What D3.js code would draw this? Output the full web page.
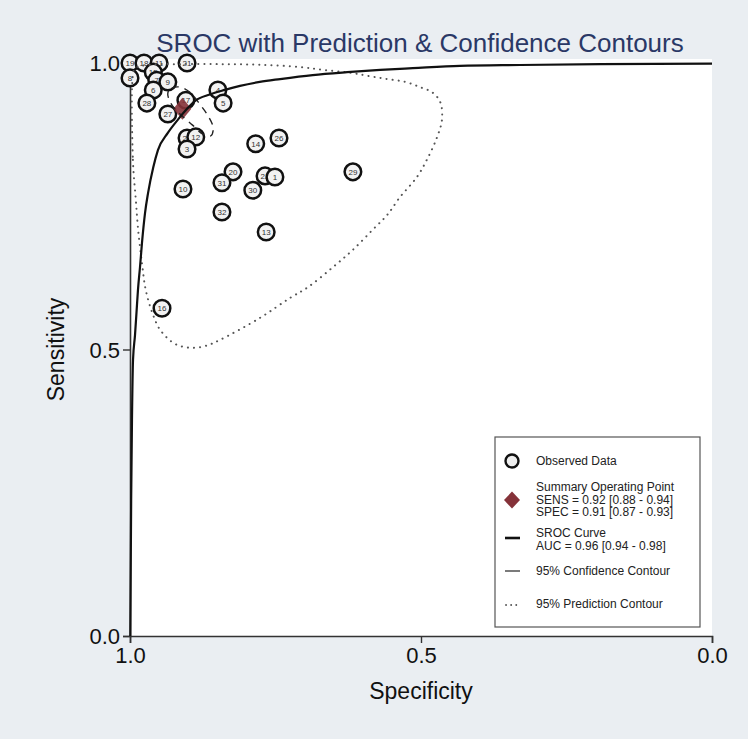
<!DOCTYPE html>
<html>
<head>
<meta charset="utf-8">
<script src="https://cdn.jsdelivr.net/npm/d3@7"></script>
<style>
  html, body { margin: 0; padding: 0; background: #eaeef2; }
  svg { display: block; font-family: 'Liberation Sans', Arial, sans-serif; }
</style>
</head>
<body>
<div id="chart"></div>
<script>
// ─── Data (specificity, sensitivity) ───────────────────────────
const studyLabels = ['19', '18', '11', '21', '8', '15', '7', '9', '6', '28', '27', '17', '4', '5',
    '24', '12', '3', '20', '31', '10', '14', '26', '22', '1', '30', '32', '13', '29', '16'];
const studySpec = [1.000, 0.976, 0.950, 0.902, 1.000, 0.960, 0.954, 0.935, 0.960, 0.971, 0.935, 0.904, 0.849, 0.840,
    0.902, 0.887, 0.902, 0.823, 0.842, 0.909, 0.784, 0.744, 0.768, 0.751, 0.789, 0.842, 0.766, 0.617, 0.945];
const studySens = [1.000, 1.000, 1.000, 1.000, 0.974, 0.984, 0.970, 0.967, 0.953, 0.930, 0.911, 0.935, 0.953, 0.930,
    0.869, 0.871, 0.850, 0.810, 0.791, 0.780, 0.859, 0.869, 0.803, 0.801, 0.778, 0.740, 0.705, 0.810, 0.572];

const summarySpec = 0.91;
const summarySens = 0.92;

const srocSpec = [0.9995, 0.998, 0.9966, 0.9948, 0.9914, 0.988, 0.9863, 0.9828, 0.9794, 0.9742, 0.969, 0.960,
    0.952, 0.935, 0.917, 0.902, 0.888, 0.863, 0.837, 0.811, 0.777, 0.742, 0.686, 0.627, 0.570, 0.514, 0.433,
    0.330, 0.192, 0.0];
const srocSens = [0.0, 0.237, 0.377, 0.482, 0.525, 0.578, 0.604, 0.644, 0.686, 0.738, 0.773, 0.818,
    0.848, 0.878, 0.902, 0.920, 0.934, 0.945, 0.953, 0.960, 0.967, 0.972, 0.979, 0.984, 0.988, 0.991, 0.995,
    0.9965, 0.998, 0.999];

const confSpec = [0.935, 0.928, 0.914, 0.897, 0.880, 0.866, 0.857, 0.861, 0.875, 0.893, 0.914, 0.930];
const confSens = [0.948, 0.956, 0.958, 0.949, 0.928, 0.908, 0.887, 0.873, 0.876, 0.892, 0.911, 0.930];

const predSpec = [0.995, 0.995, 0.990, 0.986, 0.979, 0.973, 0.962, 0.948, 0.923, 0.897, 0.871, 0.845, 0.777,
    0.725, 0.694, 0.651, 0.617, 0.582, 0.558, 0.536, 0.507, 0.490, 0.473, 0.464, 0.467, 0.481, 0.502, 0.527,
    0.558, 0.588, 0.622, 0.668, 0.708, 0.777, 0.845, 0.914, 0.966, 0.991];
const predSens = [0.979, 0.831, 0.761, 0.709, 0.647, 0.604, 0.565, 0.534, 0.510, 0.503, 0.506, 0.517, 0.555,
    0.590, 0.609, 0.644, 0.674, 0.710, 0.735, 0.766, 0.801, 0.831, 0.869, 0.901, 0.932, 0.949, 0.958, 0.967,
    0.972, 0.977, 0.983, 0.988, 0.993, 0.997, 0.998, 0.998, 0.997, 0.991];

const tickValues = [0, 0.5, 1];
const legendLines = {
    observed: ['Observed Data'],
    summary: ['Summary Operating Point', 'SENS = 0.92 [0.88 - 0.94]', 'SPEC = 0.91 [0.87 - 0.93]'],
    sroc: ['SROC Curve', 'AUC = 0.96 [0.94 - 0.98]'],
    conf: ['95% Confidence Contour'],
    pred: ['95% Prediction Contour']
};

// ─── Layout ────────────────────────────────────────────────────
const W = 748, H = 739;
const plot = { left: 130, right: 712, top: 63, bottom: 636 };
const diamond = (hw, hh) => `M0,${-hh}L${hw},0L0,${hh}L${-hw},0Z`;

const svg = d3.select('#chart').append('svg')
    .attr('width', W).attr('height', H);

svg.append('rect').attr('width', W).attr('height', H).attr('fill', '#eaeef2');
svg.append('rect')
    .attr('x', plot.left).attr('y', plot.top - 4)
    .attr('width', plot.right - plot.left).attr('height', plot.bottom - plot.top + 4)
    .attr('fill', '#ffffff');

const x = d3.scaleLinear().domain([1, 0]).range([plot.left, plot.right]);
const y = d3.scaleLinear().domain([0, 1]).range([plot.bottom, plot.top]);

// ── Title ──
svg.append('text')
    .attr('x', 420).attr('y', 52)
    .attr('text-anchor', 'middle')
    .attr('font-size', 26)
    .attr('fill', '#2a3866')
    .text('SROC with Prediction & Confidence Contours');

// ── Axes ──
const xAxis = svg.append('g')
    .attr('transform', `translate(0,${plot.bottom})`)
    .call(d3.axisBottom(x).tickValues(tickValues).tickFormat(d3.format('.1f')).tickSize(7).tickPadding(4));
const yAxis = svg.append('g')
    .attr('transform', `translate(${plot.left},0)`)
    .call(d3.axisLeft(y).tickValues(tickValues).tickFormat(d3.format('.1f')).tickSize(7).tickPadding(3));

[xAxis, yAxis].forEach(a => {
    a.select('.domain').attr('stroke', '#333').attr('stroke-width', 1.6);
    a.selectAll('.tick line').attr('stroke', '#333').attr('stroke-width', 1.4);
    a.selectAll('.tick text')
        .attr('font-size', 22)
        .attr('font-family', "'Liberation Sans', Arial, sans-serif")
        .attr('fill', '#111');
});
yAxis.selectAll('.tick text').attr('dy', '0.36em');

svg.append('text')
    .attr('x', (plot.left + plot.right) / 2).attr('y', 699)
    .attr('text-anchor', 'middle')
    .attr('font-size', 23).attr('fill', '#111')
    .text('Specificity');
svg.append('text')
    .attr('transform', `translate(64,${(plot.top + plot.bottom) / 2}) rotate(-90)`)
    .attr('text-anchor', 'middle')
    .attr('font-size', 23).attr('fill', '#111')
    .text('Sensitivity');

// ── Observed studies ──
const studies = studyLabels.map((lab, i) => ({ lab, spec: studySpec[i], sens: studySens[i] }));
const pts = svg.append('g').selectAll('g').data(studies).join('g')
    .attr('transform', d => `translate(${x(d.spec)},${y(d.sens)})`);
pts.append('circle')
    .attr('r', 8.3)
    .attr('fill', '#f2f2f2')
    .attr('stroke', '#111')
    .attr('stroke-width', 2.5);
pts.append('text')
    .attr('text-anchor', 'middle')
    .attr('dy', '0.35em')
    .attr('font-size', 8)
    .attr('fill', '#333')
    .text(d => d.lab);

// ── Summary point ──
svg.append('path')
    .attr('d', diamond(9, 11))
    .attr('transform', `translate(${x(summarySpec)},${y(summarySens)})`)
    .attr('fill', '#853239')
    .attr('opacity', 0.9);

// ── Contours and SROC curve ──
const toPts = (sp, se) => sp.map((s, i) => [x(s), y(se[i])]);

svg.append('path')
    .attr('d', d3.line().curve(d3.curveCatmullRomClosed)(toPts(predSpec, predSens)))
    .attr('fill', 'none')
    .attr('stroke', '#555')
    .attr('stroke-width', 2)
    .attr('stroke-linecap', 'round')
    .attr('stroke-dasharray', '0.1,6');

svg.append('path')
    .attr('d', d3.line().curve(d3.curveCatmullRomClosed)(toPts(confSpec, confSens)))
    .attr('fill', 'none')
    .attr('stroke', '#222')
    .attr('stroke-width', 1.4)
    .attr('stroke-dasharray', '7,6');

svg.append('path')
    .attr('d', d3.line().curve(d3.curveMonotoneX)(toPts(srocSpec, srocSens)))
    .attr('fill', 'none')
    .attr('stroke', '#111')
    .attr('stroke-width', 2.2);

// ── Legend ──
const lg = svg.append('g');
lg.append('rect')
    .attr('x', 495).attr('y', 437).attr('width', 205).attr('height', 190)
    .attr('fill', '#fff').attr('stroke', '#555').attr('stroke-width', 1.2);

const addText = (lines, y0) => {
    lines.forEach((t, i) => {
        lg.append('text')
            .attr('x', 536).attr('y', y0 + i * 12.7)
            .attr('font-size', 12).attr('fill', '#222')
            .text(t);
    });
};

lg.append('circle').attr('cx', 512).attr('cy', 461).attr('r', 6.5)
    .attr('fill', '#eee').attr('stroke', '#111').attr('stroke-width', 2.4);
addText(legendLines.observed, 465);

lg.append('path')
    .attr('d', diamond(8, 8.5))
    .attr('transform', 'translate(512,500)')
    .attr('fill', '#853239');
addText(legendLines.summary, 491);

lg.append('line').attr('x1', 505).attr('x2', 520).attr('y1', 538).attr('y2', 538)
    .attr('stroke', '#111').attr('stroke-width', 2.6);
addText(legendLines.sroc, 537);

lg.append('line').attr('x1', 505).attr('x2', 520).attr('y1', 571).attr('y2', 571)
    .attr('stroke', '#333').attr('stroke-width', 1.3);
addText(legendLines.conf, 575);

lg.append('line').attr('x1', 506).attr('x2', 520).attr('y1', 605).attr('y2', 605)
    .attr('stroke', '#555').attr('stroke-width', 1.8)
    .attr('stroke-linecap', 'round').attr('stroke-dasharray', '0.1,5');
addText(legendLines.pred, 608);
</script>
</body>
</html>
